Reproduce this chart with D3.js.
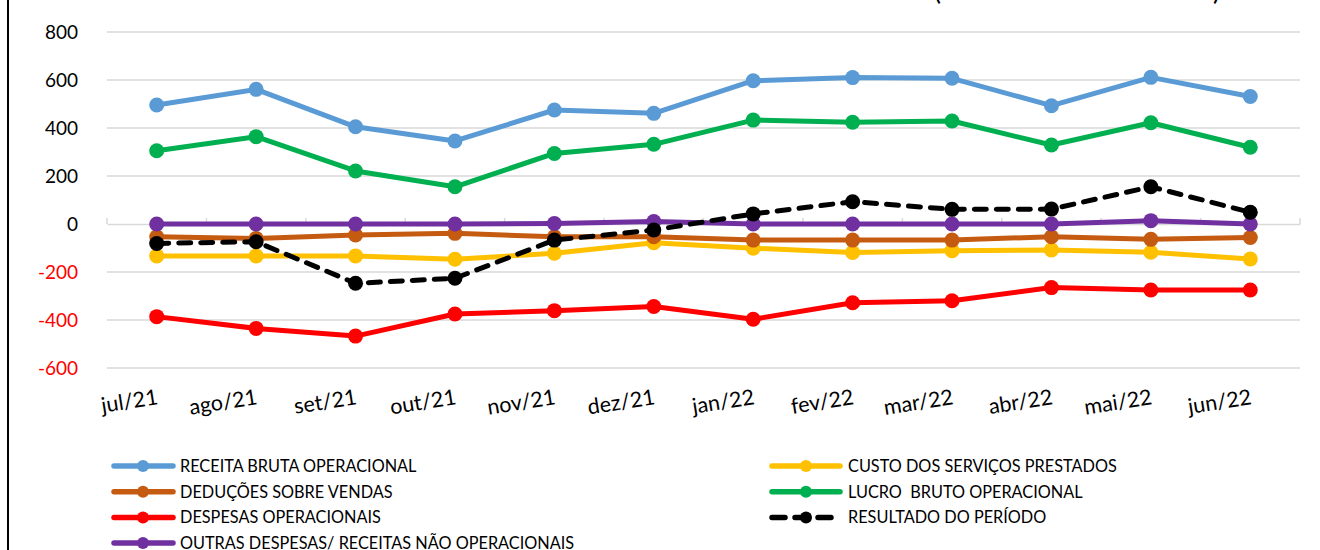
<!DOCTYPE html>
<html>
<head>
<meta charset="utf-8">
<script src="https://cdn.jsdelivr.net/npm/d3@7"></script>
<style>
  body { margin: 0; background: #fff; }
  svg text { font-family: Lato, "Open Sans", sans-serif; white-space: pre; }
</style>
</head>
<body>
<svg id="chart" width="1320" height="550"></svg>
<script>
var months = ["jul/21", "ago/21", "set/21", "out/21", "nov/21", "dez/21",
              "jan/22", "fev/22", "mar/22", "abr/22", "mai/22", "jun/22"];

var receitaBruta = [496, 561, 405, 346, 475, 461, 597, 610, 607, 493, 611, 531];
var deducoes     = [-53, -60, -46, -39, -53, -53, -67, -67, -67, -53, -64, -56];
var despesas     = [-386, -435, -467, -375, -361, -344, -397, -328, -320, -265, -275, -275];
var outras       = [0, 0, 0, 0, 2, 10, 0, 0, 0, 0, 14, 0];
var custo        = [-133, -133, -133, -147, -122, -78, -101, -119, -111, -108, -118, -146];
var lucroBruto   = [305, 364, 221, 155, 294, 332, 433, 424, 429, 329, 422, 320];
var resultado    = [-81, -74, -247, -226, -67, -25, 42, 93, 61, 62, 155, 49];

var yTicks = [-600, -400, -200, 0, 200, 400, 600, 800];

// drawing order: the dashed result line sits on top of the rest
var series = [
  { name: "RECEITA BRUTA OPERACIONAL", values: receitaBruta, color: "#5b9bd5" },
  { name: "LUCRO  BRUTO OPERACIONAL", values: lucroBruto, color: "#00b050" },
  { name: "DESPESAS OPERACIONAIS", values: despesas, color: "#ff0000" },
  { name: "CUSTO DOS SERVIÇOS PRESTADOS", values: custo, color: "#ffc000" },
  { name: "DEDUÇÕES SOBRE VENDAS", values: deducoes, color: "#c55a11" },
  { name: "OUTRAS DESPESAS/ RECEITAS NÃO OPERACIONAIS", values: outras, color: "#7030a0" },
  { name: "RESULTADO DO PERÍODO", values: resultado, color: "#000000", dashed: true }
];

var legendLeft = ["RECEITA BRUTA OPERACIONAL", "DEDUÇÕES SOBRE VENDAS",
                  "DESPESAS OPERACIONAIS", "OUTRAS DESPESAS/ RECEITAS NÃO OPERACIONAIS"];
var legendRight = ["CUSTO DOS SERVIÇOS PRESTADOS", "LUCRO  BRUTO OPERACIONAL",
                   "RESULTADO DO PERÍODO"];

var svg = d3.select("#chart");

// frame line on the left
svg.append("line")
  .attr("x1", 8).attr("x2", 8).attr("y1", 0).attr("y2", 550)
  .attr("stroke", "#000").attr("stroke-width", 2);

// title, cut off by the top edge (only the bracket tails show)
svg.append("text")
  .attr("x", 934).attr("y", 0)
  .attr("font-size", 26)
  .attr("textLength", 286)
  .attr("lengthAdjust", "spacing")
  .attr("fill", "#000")
  .text("(EM MILHARES DE REAIS)");

var x = d3.scaleBand().domain(months).range([107, 1300]);
var y = d3.scaleLinear().domain([-600, 800]).range([368, 32]);

// gridlines
svg.append("g").selectAll("line")
  .data(yTicks.filter(function(d) { return d !== 0; }))
  .enter().append("line")
  .attr("x1", 107).attr("x2", 1300)
  .attr("y1", function(d) { return y(d); })
  .attr("y2", function(d) { return y(d); })
  .attr("stroke", "#d9d9d9").attr("stroke-width", 1.5);

// zero axis with category ticks
var zeroAxis = svg.append("g")
  .attr("transform", "translate(0," + y(0) + ")")
  .call(d3.axisBottom(x).tickSize(0).tickFormat(""));
zeroAxis.select(".domain").attr("stroke", "#d9d9d9").attr("stroke-width", 1.5);
zeroAxis.selectAll(".bnd")
  .data(d3.range(months.length + 1))
  .enter().append("line")
  .attr("x1", function(i) { return 107 + i * x.bandwidth(); })
  .attr("x2", function(i) { return 107 + i * x.bandwidth(); })
  .attr("y1", 0).attr("y2", -6)
  .attr("stroke", "#d9d9d9").attr("stroke-width", 1.5);

// y labels (plain hyphen for negatives, red)
var yAxis = svg.append("g")
  .attr("transform", "translate(78,0)")
  .call(d3.axisLeft(y).tickValues(yTicks).tickSize(0).tickPadding(0)
    .tickFormat(function(d) { return String(d); }));
yAxis.select(".domain").remove();
yAxis.selectAll("text")
  .attr("font-size", 19)
  .attr("font-family", "Lato, sans-serif")
  .attr("fill", function(d) { return d < 0 ? "#ff0000" : "#000"; });

// x labels, slightly rotated, ending at the category centre
svg.append("g").selectAll("text")
  .data(months)
  .enter().append("text")
  .attr("transform", function(d) {
    return "translate(" + (x(d) + x.bandwidth() / 2 + 2) + ",404) rotate(-9)";
  })
  .attr("text-anchor", "end")
  .attr("font-size", 21.5)
  .attr("fill", "#000")
  .text(function(d) { return d; });

var line = d3.line()
  .x(function(d, i) { return x(months[i]) + x.bandwidth() / 2; })
  .y(function(d) { return y(d); });

series.forEach(function(s) {
  var g = svg.append("g");
  g.append("path")
    .attr("d", line(s.values))
    .attr("fill", "none")
    .attr("stroke", s.color)
    .attr("stroke-width", 5)
    .attr("stroke-linejoin", "round")
    .attr("stroke-linecap", s.dashed ? "round" : "butt")
    .attr("stroke-dasharray", s.dashed ? "12,10" : null);
  g.selectAll("circle")
    .data(s.values)
    .enter().append("circle")
    .attr("cx", function(d, i) { return x(months[i]) + x.bandwidth() / 2; })
    .attr("cy", function(d) { return y(d); })
    .attr("r", 7.5)
    .attr("fill", s.color);
});

// legend
function seriesByName(name) {
  return series.filter(function(s) { return s.name === name; })[0];
}

function drawLegend(names, x0, x1, cx, tx) {
  var rows = svg.append("g").selectAll("g")
    .data(names)
    .enter().append("g")
    .attr("transform", function(d, i) { return "translate(0," + (466 + i * 25.7) + ")"; });
  rows.append("line")
    .attr("x1", x0).attr("x2", x1).attr("y1", 0).attr("y2", 0)
    .attr("stroke", function(d) { return seriesByName(d).color; })
    .attr("stroke-width", 5.5)
    .attr("stroke-linecap", "round")
    .attr("stroke-dasharray", function(d) { return seriesByName(d).dashed ? "13,10" : null; });
  rows.append("circle")
    .attr("cx", cx).attr("cy", 0).attr("r", 6)
    .attr("fill", function(d) { return seriesByName(d).color; });
  rows.append("text")
    .attr("x", tx).attr("y", 6)
    .attr("font-size", 16.3)
    .attr("fill", "#000")
    .text(function(d) { return d; });
}

drawLegend(legendLeft, 114, 173, 143, 180);
drawLegend(legendRight, 772, 840, 806, 848);
</script>
</body>
</html>
